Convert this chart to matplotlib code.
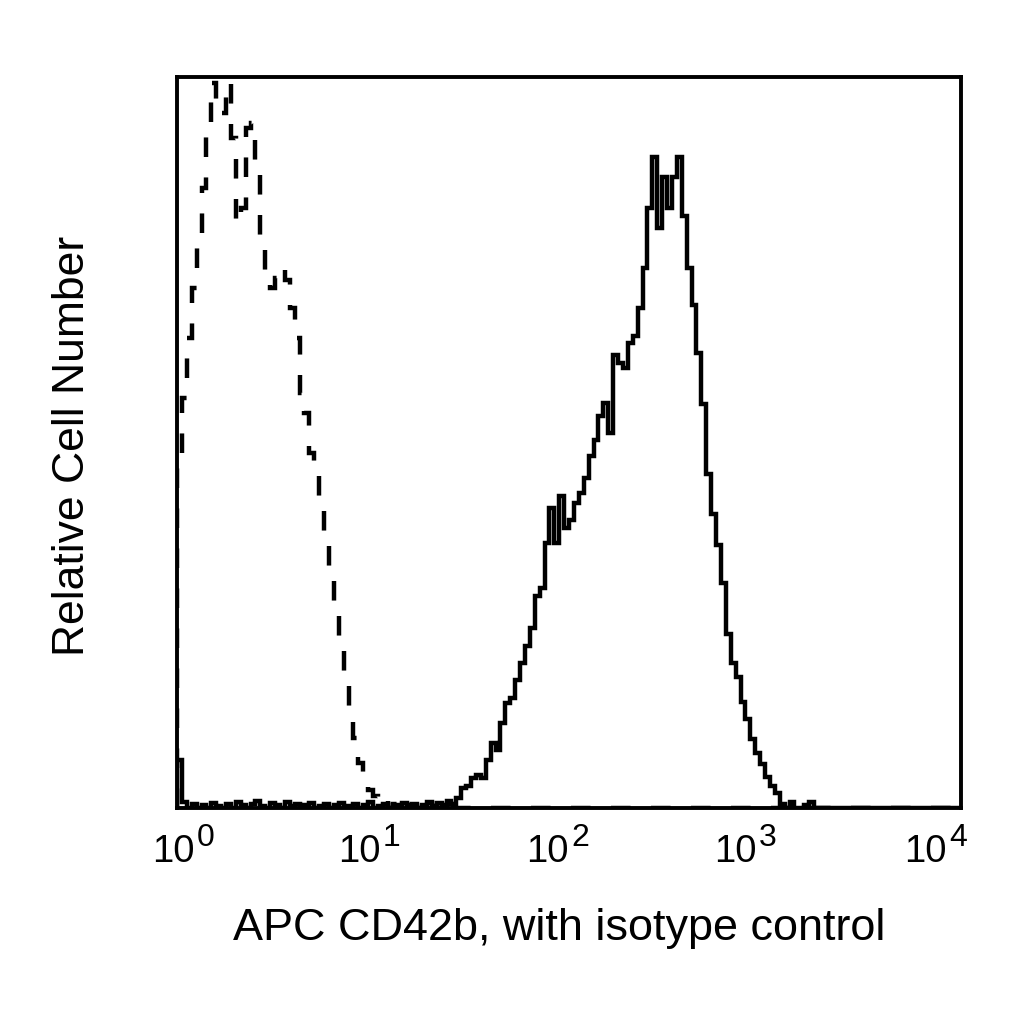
import numpy as np
import matplotlib
matplotlib.use("Agg")
import matplotlib.pyplot as plt
from matplotlib.transforms import ScaledTranslation

plt.rcParams['font.family'] = ['Liberation Sans', 'DejaVu Sans']

# 160 log-spaced channels spanning 10^0 .. 10^4
n_channels = 160
decade_min, decade_max = 0, 4

# CD42b stained sample (solid line), relative counts per channel
cd42b_counts = [
    48, 6, 0, 4, 0, 3, 0, 5, 2, 0,
    4, 0, 6, 3, 0, 4, 7, 2, 0, 5,
    3, 0, 6, 2, 4, 0, 3, 5, 0, 2,
    4, 0, 3, 5, 2, 0, 4, 0, 3, 6,
    0, 2, 4, 0, 3, 0, 5, 2, 4, 0,
    3, 6, 2, 5, 3, 7, 4, 10, 20, 22,
    30, 33, 30, 48, 65, 58, 85, 105, 110, 128,
    145, 162, 180, 212, 220, 265, 300, 265, 312, 280,
    288, 305, 315, 330, 352, 368, 392, 405, 375, 453,
    445, 440, 465, 472, 500, 540, 600, 651, 580, 631,
    600, 631, 651, 592, 540, 503, 455, 404, 334, 294,
    263, 225, 174, 145, 131, 106, 89, 69, 55, 44,
    31, 22, 15, 4, 0, 6, 0, 0, 3, 6,
    0, 0, 0, 0, 0, 0, 0, 0, 0, 0,
    0, 0, 0, 0, 0, 0, 0, 0, 0, 0,
    0, 0, 0, 0, 0, 0, 0, 0, 0, 0,
]

# Isotype control (dashed line), relative counts per channel
isotype_counts = [
    350, 410, 470, 520, 575, 620, 685, 725, 700, 695,
    725, 670, 585, 600, 680, 685, 640, 560, 535, 520,
    530, 540, 528, 500, 470, 415, 395, 355, 335, 300,
    270, 240, 200, 160, 125, 95, 70, 45, 30, 18,
    12, 5, 8, 0, 4, 0, 6, 3, 0, 4,
    0, 5, 2, 0, 3, 6, 0, 0, 0, 0,
    0, 0, 0, 0, 0, 0, 0, 0, 0, 0,
    0, 0, 0, 0, 0, 0, 0, 0, 0, 0,
    0, 0, 0, 0, 0, 0, 0, 0, 0, 0,
    0, 0, 0, 0, 0, 0, 0, 0, 0, 0,
    0, 0, 0, 0, 0, 0, 0, 0, 0, 0,
    0, 0, 0, 0, 0, 0, 0, 0, 0, 0,
    0, 0, 0, 0, 0, 0, 0, 0, 0, 0,
    0, 0, 0, 0, 0, 0, 0, 0, 0, 0,
    0, 0, 0, 0, 0, 0, 0, 0, 0, 0,
    0, 0, 0, 0, 0, 0, 0, 0, 0, 0,
]

y_max = 731
tick_values = [1, 10, 100, 1000, 10000]
tick_bases = ['10', '10', '10', '10', '10']
tick_exponents = ['0', '1', '2', '3', '4']
x_label = 'APC CD42b, with isotype control'
y_label = 'Relative Cell Number'

edges = np.logspace(decade_min, decade_max, n_channels + 1)

fig = plt.figure(figsize=(10.24, 10.24), dpi=100)
ax = fig.add_axes([0.1729, 0.2109, 0.7656, 0.7139])

ax.stairs(isotype_counts, edges, color='black', linewidth=3.2,
          linestyle=(0, (4.4, 4.6)), baseline=0)
ax.stairs(cd42b_counts, edges, color='black', linewidth=3.2, baseline=0)

ax.set_xscale('log')
ax.set_xlim(1, 1e4)
ax.set_ylim(0, y_max)
ax.set_xticks(tick_values)
ax.set_xticklabels([''] * len(tick_values))
ax.xaxis.set_minor_locator(matplotlib.ticker.NullLocator())
ax.set_yticks([])
ax.tick_params(axis='x', length=0)
for s in ax.spines.values():
    s.set_linewidth(2.8)
    s.set_color('black')

# tick labels drawn as base "10" + raised exponent (layout offsets in pixels)
junction_dx_px = [18, 8, 0, -8, -14]
base_dy_px = -54
exp_dy_px = -38
xtrans = ax.get_xaxis_transform()
for xv, b, e, dx in zip(tick_values, tick_bases, tick_exponents, junction_dx_px):
    ax.text(xv, 0, b, fontsize=27.5, ha='right', va='baseline',
            transform=xtrans + ScaledTranslation(dx / 100, base_dy_px / 100, fig.dpi_scale_trans),
            clip_on=False)
    ax.text(xv, 0, e, fontsize=23, ha='left', va='baseline',
            transform=xtrans + ScaledTranslation((dx + 2) / 100, exp_dy_px / 100, fig.dpi_scale_trans),
            clip_on=False)

ax.set_xlabel(x_label, fontsize=32.4)
ax.xaxis.label.set_va('baseline')
ax.xaxis.set_label_coords(0.487, -0.1806)

ax.set_ylabel(y_label, fontsize=32)
ax.yaxis.label.set_va('baseline')
ax.yaxis.set_label_coords(-0.1186, 0.495)

fig.savefig('out.png', dpi=100)
